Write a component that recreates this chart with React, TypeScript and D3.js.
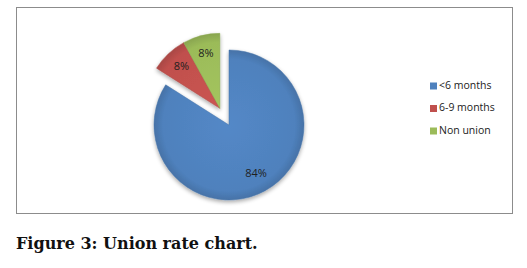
import React from 'react';
import * as d3 from 'd3';

const categories = ['<6 months', '6-9 months', 'Non union'];
const values = [84, 8, 8];
const labels = ['84%', '8%', '8%'];
const colors = ['#4F81BD', '#C0504D', '#9BBB59'];
const exploded = [false, true, true];

const App = () => {
	const width = 527;
	const height = 268;
	const cx = 229;
	const cy = 125;
	const r = 75;
	const offset = 19;

	const pie = d3
		.pie<number>()
		.sort(null)
		.value((d) => d)
		.startAngle(0)
		.endAngle(Math.PI * 2);
	const arcs = pie(values);

	const arc = d3.arc<d3.PieArcDatum<number>>().innerRadius(0).outerRadius(r);
	const labelArc = d3
		.arc<d3.PieArcDatum<number>>()
		.innerRadius(r * 0.75)
		.outerRadius(r * 0.75);

	// explode the small slices together along their shared middle
	const small = arcs.filter((a, i) => exploded[i]);
	const midAngle =
		(d3.min(small, (a) => a.startAngle)! + d3.max(small, (a) => a.endAngle)!) / 2;
	const ox = Math.sin(midAngle) * offset;
	const oy = -Math.cos(midAngle) * offset;

	return (
		<svg
			width={width}
			height={height}
			style={{ position: 'absolute', left: 0, top: 0, background: '#fff' }}
		>
			<defs>
				{colors.map((c, i) => (
					<radialGradient
						key={i}
						id={`g${i}`}
						gradientUnits="userSpaceOnUse"
						cx={0}
						cy={0}
						r={r}
					>
						<stop offset="0%" stopColor={d3.color(c)!.brighter(0.15).toString()} />
						<stop offset="88%" stopColor={c} />
						<stop offset="100%" stopColor={d3.color(c)!.darker(0.35).toString()} />
					</radialGradient>
				))}
				<filter id="shadow" x="-20%" y="-20%" width="140%" height="140%">
					<feGaussianBlur in="SourceAlpha" stdDeviation="2" />
					<feOffset dx="0" dy="2" result="b" />
					<feComponentTransfer>
						<feFuncA type="linear" slope="0.35" />
					</feComponentTransfer>
					<feMerge>
						<feMergeNode />
						<feMergeNode in="SourceGraphic" />
					</feMerge>
				</filter>
			</defs>
			<rect x={16.5} y={7.5} width={496} height={206} fill="#fff" stroke="#8c8c8c" strokeWidth={1} />

			<g filter="url(#shadow)">
				{arcs.map((a, i) => {
					const dx = exploded[i] ? ox : 0;
					const dy = exploded[i] ? oy : 0;
					return (
						<g key={i} transform={`translate(${cx + dx},${cy + dy})`}>
							<path
								d={arc(a)!}
								fill={`url(#g${i})`}
								stroke={d3.color(colors[i])!.darker(0.3).toString()}
								strokeWidth={0.5}
							/>
						</g>
					);
				})}
			</g>
			{arcs.map((a, i) => {
				const dx = exploded[i] ? ox : 0;
				const dy = exploded[i] ? oy : 0;
				const [lx, ly] = labelArc.centroid(a);
				return (
					<text
						key={i}
						x={cx + dx + lx}
						y={cy + dy + ly}
						textAnchor="middle"
						dominantBaseline="middle"
						fontFamily="'Open Sans', sans-serif"
						fontSize={11}
						fill="#1f1f1f"
					>
						{labels[i]}
					</text>
				);
			})}

			{categories.map((c, i) => (
				<g key={c} transform={`translate(430,${86 + i * 22.5})`}>
					<rect x={0} y={-3.5} width={7} height={7} fill={colors[i]} />
					<text
						x={9}
						y={0}
						dominantBaseline="middle"
						fontFamily="'Open Sans', sans-serif"
						fontSize={10.5}
						fill="#222"
					>
						{c}
					</text>
				</g>
			))}

			<text
				x={16}
				y={249}
				fontFamily="'DejaVu Serif', serif"
				fontWeight="bold"
				fontSize={16}
				fill="#111"
			>
				Figure 3: Union rate chart.
			</text>
		</svg>
	);
};

export default App;
